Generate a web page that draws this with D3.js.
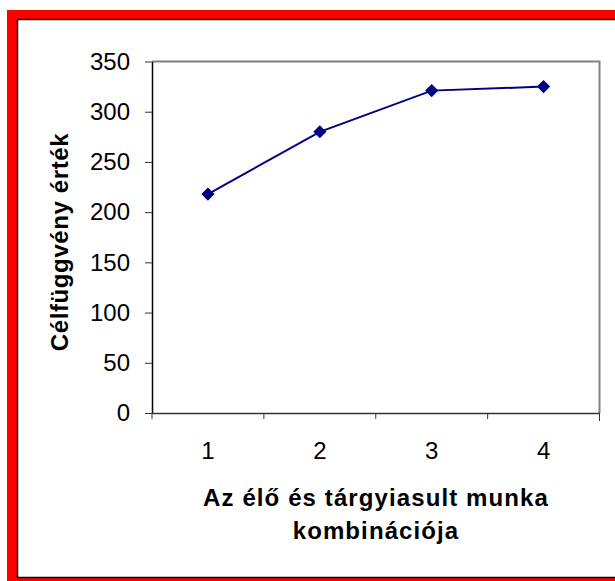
<!DOCTYPE html>
<html>
<head>
<meta charset="utf-8">
<script src="https://cdn.jsdelivr.net/npm/d3@7"></script>
<style>
  html, body { margin: 0; padding: 0; background: #fff; }
  svg { display: block; }
</style>
</head>
<body>
<svg width="615" height="581"></svg>
<script>
// chart data
var categories = ["1", "2", "3", "4"];
var values = [218, 280, 321, 325];
var yTicks = [0, 50, 100, 150, 200, 250, 300, 350];
var xTitle = ["Az élő és tárgyiasult munka", "kombinációja"];
var yTitle = "Célfüggvény érték";

var svg = d3.select("svg");
var width = +svg.attr("width");
var height = +svg.attr("height");
var font = "Liberation Sans, Arial, sans-serif";

// red frame with thin black inner edge
svg.append("rect")
    .attr("x", 7).attr("y", 10)
    .attr("width", 640).attr("height", 580)
    .attr("fill", "#ff0000");
svg.append("rect")
    .attr("x", 17.5).attr("y", 19.5)
    .attr("width", 640).attr("height", 558)
    .attr("fill", "#fff")
    .attr("stroke", "#000")
    .attr("stroke-width", 1.5);

var plot = { left: 152, top: 61.5, right: 599.5, bottom: 413 };

var x = d3.scaleBand()
    .domain(categories)
    .range([plot.left, plot.right]);

var y = d3.scaleLinear()
    .domain([0, 350])
    .range([plot.bottom, plot.top]);

// plot area border (gray top and right)
svg.append("path")
    .attr("d", "M" + plot.left + "," + plot.top + "H" + plot.right + "V" + plot.bottom)
    .attr("fill", "none")
    .attr("stroke", "#808080")
    .attr("stroke-width", 2);

// y axis
var yAxis = svg.append("g")
    .attr("transform", "translate(" + plot.left + ",0)")
    .call(d3.axisLeft(y).tickValues(yTicks).tickSizeInner(7).tickSizeOuter(0).tickPadding(15));
yAxis.select(".domain").attr("stroke", "#000").attr("stroke-width", 1.5);
yAxis.selectAll(".tick line").attr("stroke", "#333");
yAxis.selectAll("text")
    .attr("font-family", font)
    .attr("font-size", 24)
    .attr("fill", "#000");

// x axis with ticks between categories
var xAxis = svg.append("g")
    .attr("transform", "translate(0," + plot.bottom + ")")
    .call(d3.axisBottom(x).tickSize(0).tickPadding(29));
xAxis.select(".domain").attr("stroke", "#333").attr("stroke-width", 1.5);
xAxis.selectAll("text")
    .attr("font-family", font)
    .attr("font-size", 24)
    .attr("fill", "#000");
xAxis.selectAll(".sep")
    .data(categories.concat(["end"]))
    .enter().append("line")
    .attr("class", "sep")
    .attr("x1", function (d, i) { return plot.left + i * x.step(); })
    .attr("x2", function (d, i) { return plot.left + i * x.step(); })
    .attr("y1", 0)
    .attr("y2", function (d, i) { return i === categories.length ? 8 : 6; })
    .attr("stroke", "#333");

// series line
var line = d3.line()
    .x(function (d, i) { return x(categories[i]) + x.bandwidth() / 2; })
    .y(function (d) { return y(d); });

svg.append("path")
    .datum(values)
    .attr("d", line)
    .attr("fill", "none")
    .attr("stroke", "#000080")
    .attr("stroke-width", 2);

svg.append("g")
    .selectAll("path")
    .data(values)
    .enter().append("path")
    .attr("d", d3.symbol().type(d3.symbolDiamond2).size(110))
    .attr("transform", function (d, i) {
        return "translate(" + (x(categories[i]) + x.bandwidth() / 2) + "," + y(d) + ")";
    })
    .attr("fill", "#000080");

// axis titles
svg.append("text")
    .attr("y", 506)
    .attr("text-anchor", "middle")
    .attr("font-family", font)
    .attr("font-size", 24)
    .attr("font-weight", "bold")
    .attr("letter-spacing", 1.1)
    .selectAll("tspan")
    .data(xTitle)
    .enter().append("tspan")
    .attr("x", 376)
    .attr("dy", function (d, i) { return i === 0 ? 0 : 33; })
    .text(function (d) { return d; });

svg.append("text")
    .attr("transform", "translate(68,242) rotate(-90)")
    .attr("text-anchor", "middle")
    .attr("font-family", font)
    .attr("font-size", 24)
    .attr("font-weight", "bold")
    .attr("letter-spacing", 0.6)
    .text(yTitle);
</script>
</body>
</html>
